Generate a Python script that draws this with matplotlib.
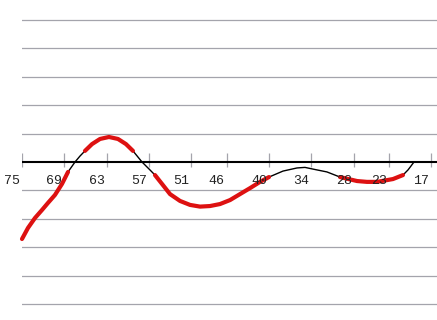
import numpy as np
import matplotlib
matplotlib.use('Agg')
import matplotlib.pyplot as plt

# curve (x axis runs from 75 down to 17)
xs = [75.00, 74.15, 73.16, 72.17, 71.32, 70.33, 69.33, 68.48, 67.49, 66.78,
      66.08, 65.08, 63.95, 62.68, 61.40, 60.27, 59.28, 58.00, 56.87, 56.16,
      55.17, 54.03, 52.62, 51.20, 49.78, 48.37, 46.95, 45.53, 44.12, 42.70,
      41.28, 40.01, 38.03, 36.04, 34.91, 33.78, 31.80, 29.95, 27.54, 26.13,
      24.71, 22.44, 21.03, 20.32, 19.89, 19.47]
ys = [-2.71, -2.32, -1.97, -1.69, -1.44, -1.16, -0.77, -0.35, 0.00, 0.21,
      0.39, 0.63, 0.81, 0.88, 0.81, 0.63, 0.39, 0.00, -0.28, -0.46,
      -0.77, -1.13, -1.37, -1.51, -1.57, -1.55, -1.48, -1.34, -1.13, -0.92,
      -0.70, -0.53, -0.32, -0.21, -0.19, -0.25, -0.35, -0.53, -0.67, -0.70,
      -0.70, -0.60, -0.46, -0.28, -0.14, 0.00]

# stretches drawn thick red
red_from = [75.00, 66.08, 56.16, 29.95]
red_to = [68.48, 59.28, 40.01, 21.03]

tick_vals = [75, 69, 63, 57, 51, 46, 40, 34, 28, 23, 17]
grid_levels = [5, 4, 3, 2, 1, -1, -2, -3, -4, -5]

fig = plt.figure(figsize=(4.37, 3.2), dpi=100)
ax = fig.add_axes([22 / 437, 0, 1 - 22 / 437, 1])
ax.set_xlim(75, 75 - 415 / 7.059)
ax.set_ylim(-5.56, 5.70)
ax.axis('off')

for g in grid_levels:
    ax.axhline(g, color='#a4a4ac', lw=0.9)

ax.vlines(tick_vals, -0.18, 0.32, color='#a4a4ac', lw=0.9)
ax.axhline(0, color='black', lw=1.5)

for t in tick_vals:
    ax.annotate(str(t), (t, 0), xytext=(-10, -19), textcoords='offset pixels',
                ha='center', va='center', fontsize=9.5,
                family='Liberation Mono', color='#222222')

x = np.array(xs)
y = np.array(ys)
ax.plot(x, y, color='black', lw=1.0, solid_joinstyle='round', clip_on=False)
for a, b in zip(red_from, red_to):
    m = (x <= a) & (x >= b)
    ax.plot(x[m], y[m], color='#dd1111', lw=3.0, solid_capstyle='round',
            solid_joinstyle='round', clip_on=False)

fig.savefig('out.png', dpi=100)
